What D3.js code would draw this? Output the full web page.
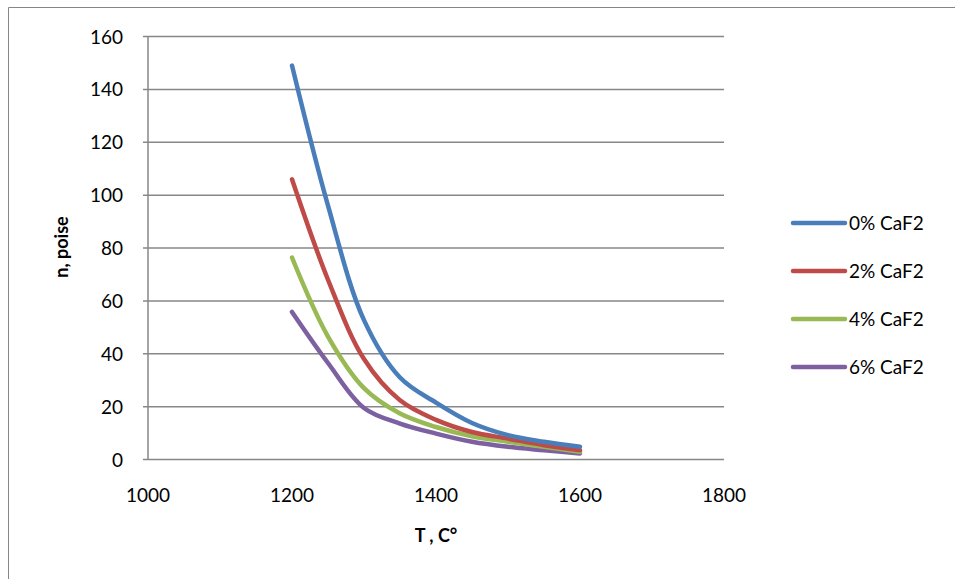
<!DOCTYPE html>
<html>
<head>
<meta charset="utf-8">
<title>Viscosity vs temperature</title>
<style>
  body { margin: 0; background: #fff; }
  text { font-family: Lato, "Open Sans", sans-serif; fill: #000; }
</style>
</head>
<body>
<svg width="955" height="579"></svg>
<script src="https://d3js.org/d3.v7.min.js"></script>
<script>

// temperatures (C)
var temps = [1200, 1250, 1300, 1350, 1400, 1450, 1500, 1550, 1600];

// viscosity readings per CaF2 content
var caf0 = [149, 96, 52.7, 31, 21.5, 13.8, 9.2, 6.7, 4.8];
var caf2 = [106, 68, 38, 22.4, 15, 10.4, 7.9, 5.4, 3.5];
var caf4 = [76.4, 46.5, 27, 17.4, 12.3, 8.8, 6.7, 4.8, 2.9];
var caf6 = [55.8, 36.5, 19.5, 13.6, 9.8, 6.7, 4.8, 3.5, 2.3];

var seriesNames = ['0% CaF2', '2% CaF2', '4% CaF2', '6% CaF2'];
var seriesColors = ['#4A7EBB', '#BE4B48', '#98B954', '#7D60A0'];

var xTicks = [1000, 1200, 1400, 1600, 1800];
var yTicks = [0, 20, 40, 60, 80, 100, 120, 140, 160];

var series = [caf0, caf2, caf4, caf6].map((vals, i) => ({
    name: seriesNames[i],
    color: seriesColors[i],
    points: vals.map((v, j) => ({ t: temps[j], v: v }))
}));

var svg = d3.select('svg');

// outer chart frame (only top and left edges show in the picture)
svg.append('path')
    .attr('d', 'M8.5,579 L8.5,7.5 L955,7.5')
    .attr('fill', 'none')
    .attr('stroke', '#868686')
    .attr('stroke-width', 1);

var x = d3.scaleLinear().domain([1000, 1800]).range([148, 724]);
var y = d3.scaleLinear().domain([0, 160]).range([459.5, 36.5]);

// horizontal gridlines
svg.append('g')
    .selectAll('line')
    .data(yTicks)
    .enter().append('line')
        .attr('x1', x(1000) - 5)
        .attr('x2', x(1800))
        .attr('y1', d => y(d))
        .attr('y2', d => y(d))
        .attr('stroke', '#878787')
        .attr('stroke-width', 1.5);

// vertical axis line
svg.append('line')
    .attr('x1', x(1000)).attr('x2', x(1000))
    .attr('y1', y(160)).attr('y2', y(0))
    .attr('stroke', '#878787')
    .attr('stroke-width', 1.5);

// y tick labels
svg.append('g')
    .selectAll('text')
    .data(yTicks)
    .enter().append('text')
        .attr('x', 123)
        .attr('y', d => y(d) + 7)
        .attr('text-anchor', 'end')
        .style('font-size', '19px')
        .text(d => d);

// x tick labels
svg.append('g')
    .selectAll('text')
    .data(xTicks)
    .enter().append('text')
        .attr('x', d => x(d))
        .attr('y', 502)
        .attr('text-anchor', 'middle')
        .style('font-size', '19px')
        .text(d => d);

// axis titles
svg.append('text')
    .attr('x', 436)
    .attr('y', 542)
    .attr('text-anchor', 'middle')
    .style('font-size', '18px')
    .style('font-weight', 'bold')
    .text('T , C°');

svg.append('text')
    .attr('transform', 'translate(68,247) rotate(-90)')
    .attr('text-anchor', 'middle')
    .style('font-size', '18px')
    .style('font-weight', 'bold')
    .text('n, poise');

// smoothed lines like the spreadsheet's
var line = d3.line()
    .x(d => x(d.t))
    .y(d => y(d.v))
    .curve(d3.curveCatmullRom.alpha(0.5));

svg.append('g')
    .selectAll('path')
    .data(series.slice().reverse())
    .enter().append('path')
        .attr('d', d => line(d.points))
        .attr('fill', 'none')
        .attr('stroke', d => d.color)
        .attr('stroke-width', 4.5)
        .attr('stroke-linecap', 'round')
        .attr('stroke-linejoin', 'round');

// legend
var legend = svg.append('g')
    .selectAll('g')
    .data(series)
    .enter().append('g')
        .attr('transform', (d, i) => `translate(0,${223 + i * 48})`);

legend.append('line')
    .attr('x1', 793).attr('x2', 845)
    .attr('y1', 0).attr('y2', 0)
    .attr('stroke', d => d.color)
    .attr('stroke-width', 4.5)
    .attr('stroke-linecap', 'round');

legend.append('text')
    .attr('x', 849)
    .attr('y', 7)
    .style('font-size', '19px')
    .text(d => d.name);

</script>
</body>
</html>
